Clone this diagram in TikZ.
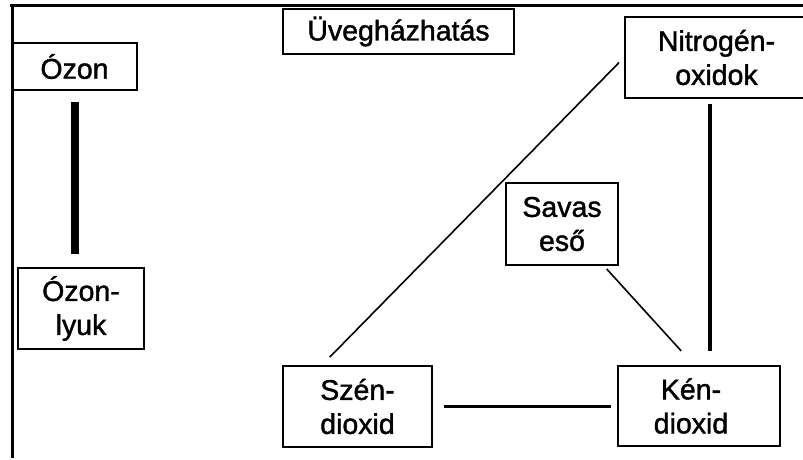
\documentclass[tikz,border=0pt]{standalone}
\usepackage{fontspec}
\setmainfont{Liberation Sans}
\newfontfamily\boxfont{Liberation Sans}[FakeBold=1.4]
\begin{document}
\begin{tikzpicture}[x=1pt,y=-1pt,
  box/.style={draw=black,line width=2pt,rectangle,align=center,inner sep=0pt,
    font=\boxfont\fontsize{28.5}{34}\selectfont},
  thinline/.style={line width=1.6pt},
  midline/.style={line width=3.5pt},
  thickline/.style={line width=8pt},
  frameline/.style={line width=3pt}]
\useasboundingbox (0,0) rectangle (803,459);
\clip (0,0) rectangle (803,459);
% frame
\coordinate (ftl) at (12,5);
\coordinate (ftr) at (805,5);
\coordinate (fbl) at (12,458);
\draw[frameline] (ftr) -- (10,5);
\draw[frameline] (ftl) -- (fbl);
% nodes
\node[box,minimum width=125,minimum height=47] (ozon) at (74.5,66.5) {Ózon};
\node[box,minimum width=126,minimum height=81] (lyuk) at (81,308.5) {Ózon-\\lyuk};
\node[box,minimum width=231,minimum height=45] (uveg) at (398.5,31.5) {Üvegházhatás};
\node[box,minimum width=183,minimum height=81] (nitro) at (716.5,57.5) {Nitrogén-\\oxidok};
\node[box,minimum width=112,minimum height=82] (savas) at (562,224) {Savas\\eső};
\node[box,minimum width=149,minimum height=81] (szen) at (357.5,406.5) {Szén-\\dioxid};
\node[box,minimum width=162,minimum height=80] (ken) at (699,406) {Kén-\hspace*{16pt}\\dioxid\hspace*{16pt}};
% connectors
\draw[thickline,shorten <=11pt,shorten >=13pt] (ozon.south) -- (ozon.south |- lyuk.north);
\draw[midline,shorten <=5pt,shorten >=14pt] ([xshift=86pt]nitro.south west) -- ([xshift=86pt]nitro.south west |- ken.north);
\draw[midline,shorten <=11pt,shorten >=6pt] (szen.east) -- (szen.east -| ken.west);
\draw[thinline,shorten <=11pt,shorten >=7pt] ([xshift=40pt]szen.north west) -- (nitro.west);
\draw[thinline,shorten <=4pt,shorten >=19pt] ([xshift=99pt]savas.south west) -- ([xshift=77pt]ken.north west);
\end{tikzpicture}
\end{document}
